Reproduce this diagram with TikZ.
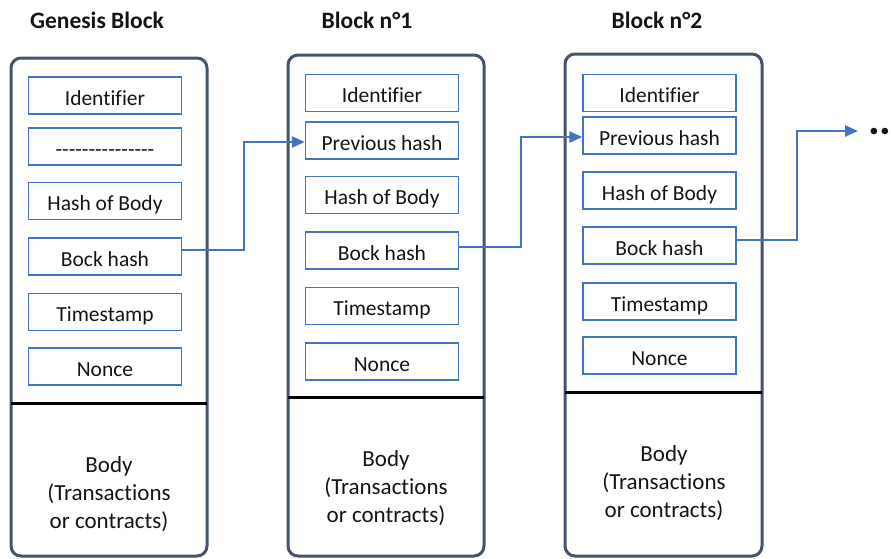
\documentclass[tikz,border=0pt]{standalone}
\usepackage{fontspec}
\setmainfont{Carlito}[Ligatures=NoCommon]
\usetikzlibrary{arrows.meta}

\definecolor{frame}{HTML}{44546A}
\definecolor{field}{HTML}{4472C4}
\definecolor{ink}{HTML}{141414}

% a run of separate hyphens (no en-dash ligatures)
\newcommand{\hyphenrun}[1]{\foreach \k in {1,...,#1}{\mbox{-}}}

\begin{document}
\begin{tikzpicture}[x=1pt,y=-1pt,
  blockframe/.style={draw=frame, line width=3pt, rounded corners=10pt},
  fieldbox/.style={draw=field, line width=1.4pt, minimum width=153pt,
    minimum height=37pt, inner sep=0pt, text height=20pt, text depth=1pt,
    text=ink, font=\fontsize{21.5}{24}\selectfont},
  blocktitle/.style={anchor=base, text=ink, font=\bfseries\fontsize{23.5}{27}\selectfont},
  bodytext/.style={align=center, text=ink, font=\fontsize{23}{28}\selectfont},
  divider/.style={line width=3pt, black},
  link/.style={draw=field, line width=2.5pt, -{Triangle[length=13pt,width=11pt]}}]

\useasboundingbox (0,0) rectangle (891,558);

% ---------- titles ----------
\node[blocktitle] (t0) at (97,28)  {Genesis Block};
\node[blocktitle] (t1) at (367,28) {Block n°1};
\node[blocktitle] (t2) at (657,28) {Block n°2};

% ---------- outer frames and header/body dividers ----------
\draw[blockframe] (11,58)  rectangle (207,556);
\draw[blockframe] (288,55) rectangle (484,556);
\draw[blockframe] (565,54) rectangle (762,556);
\draw[divider] (11,403)  -- (207,403);
\draw[divider] (288,397) -- (484,397);
\draw[divider] (565,392) -- (762,392);

% ---------- genesis block header ----------
\node[fieldbox] (g-id)   at (105,95.5)  {Identifier};
\node[fieldbox] (g-prev) at (105,146.5) {\hyphenrun{15}};
\node[fieldbox] (g-body) at (105,201)   {Hash of Body};
\node[fieldbox] (g-hash) at (105,256.5) {Bock hash};
\node[fieldbox] (g-time) at (105,312)   {Timestamp};
\node[fieldbox] (g-nonce) at (105,366.5) {Nonce};
\node[bodytext] (g-txt) at (109,494) {Body\\(Transactions\\or contracts)};

% ---------- block 1 header ----------
\node[fieldbox] (a-id)   at (382,93)    {Identifier};
\node[fieldbox] (a-prev) at (382,140.5) {Previous hash};
\node[fieldbox] (a-body) at (382,195)   {Hash of Body};
\node[fieldbox] (a-hash) at (382,250.5) {Bock hash};
\node[fieldbox] (a-time) at (382,306)   {Timestamp};
\node[fieldbox] (a-nonce) at (382,361.5) {Nonce};
\node[bodytext] (a-txt) at (386,488) {Body\\(Transactions\\or contracts)};

% ---------- block 2 header ----------
\node[fieldbox] (b-id)   at (659.5,93)    {Identifier};
\node[fieldbox] (b-prev) at (659.5,135.5) {Previous hash};
\node[fieldbox] (b-body) at (659.5,190.5) {Hash of Body};
\node[fieldbox] (b-hash) at (659.5,245.5) {Bock hash};
\node[fieldbox] (b-time) at (659.5,301.5) {Timestamp};
\node[fieldbox] (b-nonce) at (659.5,355.5) {Nonce};
\node[bodytext] (b-txt) at (664,483) {Body\\(Transactions\\or contracts)};

% ---------- hash links ----------
\coordinate (k1) at (244,0);
\coordinate (k2) at (521,0);
\coordinate (k3) at (797,0);
\coordinate (next) at (858,131);

\draw[link] ([yshift=6.5pt]g-hash.east) -| ([yshift=-1.5pt]k1 |- a-prev.west)
  -- ([yshift=-1.5pt]a-prev.west);
\draw[link] ([yshift=3.5pt]a-hash.east) -| ([yshift=-1.5pt]k2 |- b-prev.west)
  -- ([yshift=-1.5pt]b-prev.west);
\draw[link] ([yshift=5.5pt]b-hash.east) -| (k3 |- next) -- (next);

\node[anchor=base west, text=ink, inner sep=0pt,
  font=\bfseries\fontsize{44}{48}\selectfont] (more) at (868,134) {..};

\end{tikzpicture}
\end{document}
